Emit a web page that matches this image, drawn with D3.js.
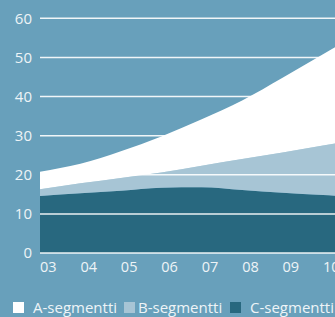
<!DOCTYPE html>
<html>
<head>
<meta charset="utf-8">
<script src="https://cdn.jsdelivr.net/npm/d3@7"></script>
<style>
  html, body { margin: 0; padding: 0; background: #68a0bb; }
  svg { display: block; }
  text { font-family: "Open Sans", "Noto Sans", sans-serif; fill: #eef4f7; }
</style>
</head>
<body>
<svg width="335" height="317"></svg>
<script>
// vuodet (2011 vain jotta alue jatkuu kuvan reunaan asti)
const years = [2003, 2004, 2005, 2006, 2007, 2008, 2009, 2010, 2011];
const segA = [4.5, 5.0, 6.8, 9.2, 11.9, 15.0, 19.1, 23.3, 27.6];
const segB = [1.7, 2.5, 3.3, 3.9, 5.5, 7.9, 10.3, 12.7, 15.0];
const segC = [14.6, 15.3, 15.9, 16.7, 16.8, 16.1, 15.4, 14.8, 14.2];
const yTicks = [0, 10, 20, 30, 40, 50, 60];
const xTicks = [2003, 2004, 2005, 2006, 2007, 2008, 2009, 2010];
const xLabels = ["03", "04", "05", "06", "07", "08", "09", "10"];
const legendLabels = ["A-segmentti", "B-segmentti", "C-segmentti"];

const colors = { A: "#ffffff", B: "#a7c5d5", C: "#28687f" };

const svg = d3.select("svg");
const width = 335;

// x-akseli: 2003 vasemmassa reunassa
const x = d3.scaleLinear().domain([2003, 2010]).range([40, 323]);
const y = d3.scaleLinear().domain([0, 60]).range([253, 18.3]);

const rows = years.map((yr, i) => ({ year: yr, A: segA[i], B: segB[i], C: segC[i] }));
const series = d3.stack().keys(["C", "B", "A"])(rows);

const area = d3.area()
  .x(d => x(d.data.year))
  .y0(d => y(d[0]))
  .y1(d => y(d[1]))
  .curve(d3.curveMonotoneX);

svg.append("defs").append("clipPath").attr("id", "clip")
  .append("rect").attr("x", 40).attr("y", 0).attr("width", width - 40).attr("height", 253);

svg.append("g").attr("clip-path", "url(#clip)")
  .selectAll("path")
  .data(series)
  .join("path")
  .attr("d", area)
  .attr("fill", d => colors[d.key]);

// ruudukko alueiden päällä
svg.append("g")
  .selectAll("line")
  .data(yTicks)
  .join("line")
  .attr("x1", 40)
  .attr("x2", width)
  .attr("y1", d => y(d))
  .attr("y2", d => y(d))
  .attr("stroke", "#ffffff")
  .attr("stroke-opacity", 0.9)
  .attr("stroke-width", 1.5);

// y-akselin numerot
svg.append("g")
  .selectAll("text")
  .data(yTicks)
  .join("text")
  .attr("x", 32)
  .attr("y", d => y(d))
  .attr("dy", "0.35em")
  .attr("text-anchor", "end")
  .attr("font-size", 15)
  .text(d => d);

// x-akselin vuodet (viimeinen leikkautuu reunaan kuten mallissa)
svg.append("g")
  .selectAll("text")
  .data(xTicks)
  .join("text")
  .attr("x", d => x(d))
  .attr("y", 272)
  .attr("font-size", 14.5)
  .text((d, i) => xLabels[i]);

// selite
const legendX = [{ box: 13, text: 33 }, { box: 124, text: 138 }, { box: 230, text: 250 }];
const legendKeys = ["A", "B", "C"];
const legend = svg.append("g")
  .selectAll("g")
  .data(legendKeys)
  .join("g");

legend.append("rect")
  .attr("x", (d, i) => legendX[i].box)
  .attr("y", 302)
  .attr("width", 11)
  .attr("height", 11)
  .attr("fill", d => colors[d]);

legend.append("text")
  .attr("x", (d, i) => legendX[i].text)
  .attr("y", 312.5)
  .attr("font-size", 15)
  .text((d, i) => legendLabels[i]);
</script>
</body>
</html>
